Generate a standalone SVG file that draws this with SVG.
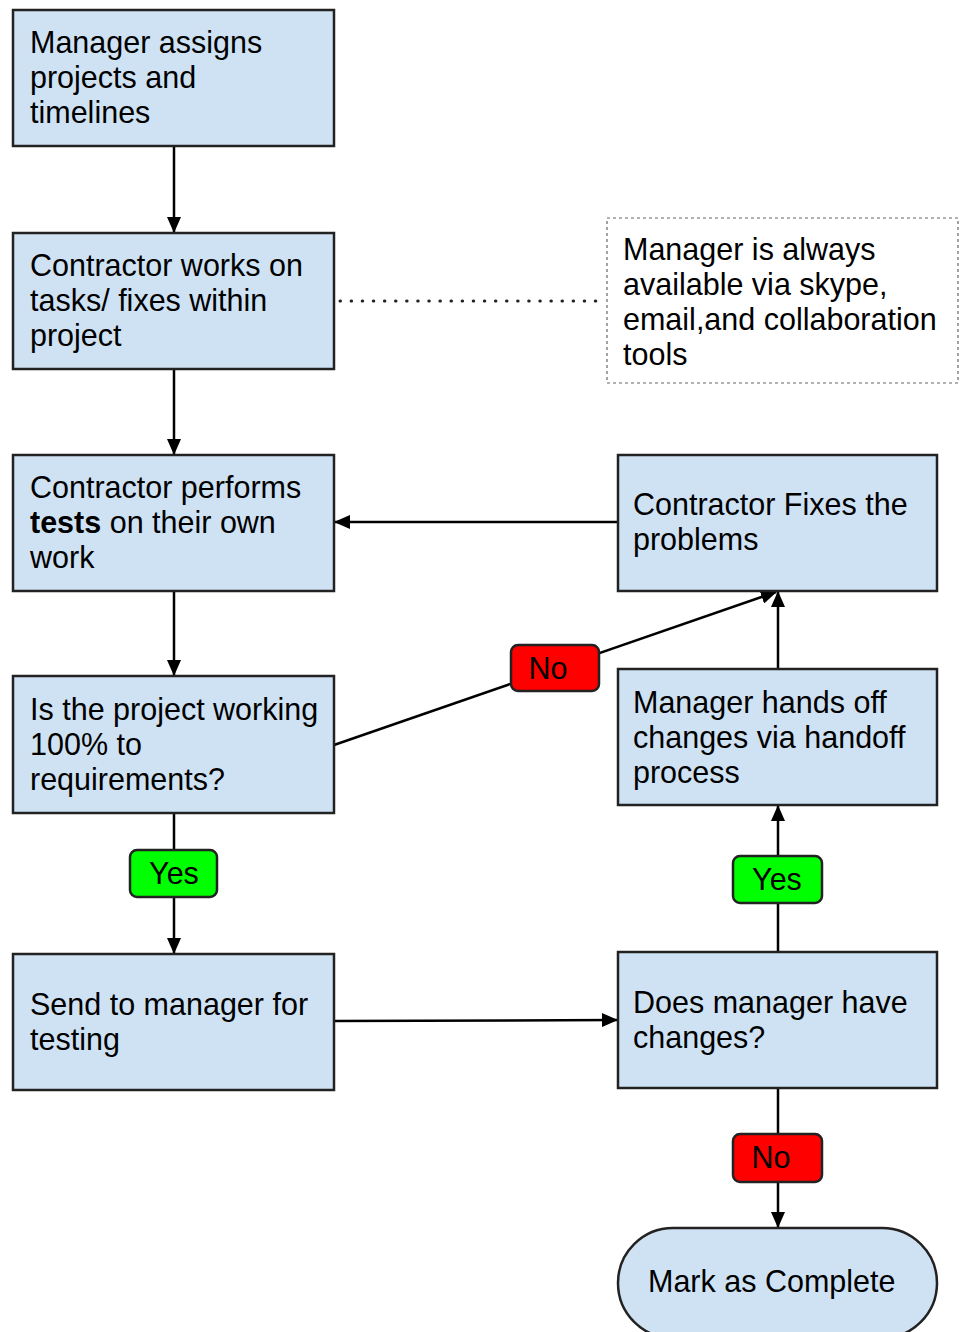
<svg xmlns="http://www.w3.org/2000/svg" width="960" height="1332" viewBox="0 0 960 1332">
<defs>
<marker id="ah" markerUnits="userSpaceOnUse" markerWidth="16" markerHeight="14" viewBox="0 0 16 14" refX="15" refY="7" orient="auto">
<path d="M0,0 L16,7 L0,14 Z" fill="#000"/>
</marker>
</defs>
<style>
.box{fill:#cfe2f3;stroke:#222;stroke-width:2.5}
.t{font-family:"Liberation Sans",Arial,sans-serif;font-size:30.5px;fill:#000}
.c{stroke:#000;stroke-width:2.5;fill:none}
.no{fill:#ff0000;stroke:#222;stroke-width:2.5}
.yes{fill:#00ff00;stroke:#222;stroke-width:2.5}
.lt{font-family:"Liberation Sans",Arial,sans-serif;font-size:30.5px;fill:#000;text-anchor:middle}
</style>
<rect width="960" height="1332" fill="#fff"/>
<g id="connectors">
<line class="c" x1="174" y1="146" x2="174" y2="232" marker-end="url(#ah)"/>
<line class="c" x1="174" y1="369" x2="174" y2="454" marker-end="url(#ah)"/>
<line class="c" x1="174" y1="591" x2="174" y2="675" marker-end="url(#ah)"/>
<line class="c" x1="174" y1="813" x2="174" y2="953" marker-end="url(#ah)"/>
<line class="c" x1="618" y1="522" x2="335" y2="522" marker-end="url(#ah)"/>
<line class="c" x1="334" y1="745" x2="776" y2="592" marker-end="url(#ah)"/>
<line class="c" x1="778" y1="669" x2="778" y2="592" marker-end="url(#ah)"/>
<line class="c" x1="778" y1="952" x2="778" y2="806" marker-end="url(#ah)"/>
<line class="c" x1="334" y1="1021" x2="617" y2="1020" marker-end="url(#ah)"/>
<line class="c" x1="778" y1="1088" x2="778" y2="1227" marker-end="url(#ah)"/>
<line x1="340" y1="301" x2="606" y2="301" stroke="#222" stroke-width="3" stroke-dasharray="0.5,10.6" stroke-linecap="round"/>
</g>
<g id="n1"><rect class="box" x="13" y="10" width="321" height="136"/>
<text class="t" x="30" y="53">Manager assigns</text><text class="t" x="30" y="88">projects and</text><text class="t" x="30" y="123">timelines</text></g>
<g id="n2"><rect class="box" x="13" y="233" width="321" height="136"/>
<text class="t" x="30" y="276">Contractor works on</text><text class="t" x="30" y="311">tasks/ fixes within</text><text class="t" x="30" y="346">project</text></g>
<g id="note"><rect x="607" y="218" width="351" height="165" fill="#fff" stroke="#666" stroke-width="1.2" stroke-dasharray="3,3"/>
<text class="t" x="623" y="260">Manager is always</text><text class="t" x="623" y="295">available via skype,</text><text class="t" x="623" y="330">email,and collaboration</text><text class="t" x="623" y="365">tools</text></g>
<g id="n3"><rect class="box" x="13" y="455" width="321" height="136"/>
<text class="t" x="30" y="498">Contractor performs</text><text class="t" x="30" y="533"><tspan font-weight="bold">tests</tspan> on their own</text><text class="t" x="30" y="568">work</text></g>
<g id="n4"><rect class="box" x="13" y="676" width="321" height="137"/>
<text class="t" x="30" y="720">Is the project working</text><text class="t" x="30" y="755">100% to</text><text class="t" x="30" y="790">requirements?</text></g>
<g id="n5"><rect class="box" x="13" y="954" width="321" height="136"/>
<text class="t" x="30" y="1015">Send to manager for</text><text class="t" x="30" y="1050">testing</text></g>
<g id="n6"><rect class="box" x="618" y="455" width="319" height="136"/>
<text class="t" x="633" y="515">Contractor Fixes the</text><text class="t" x="633" y="550">problems</text></g>
<g id="n7"><rect class="box" x="618" y="669" width="319" height="136"/>
<text class="t" x="633" y="713">Manager hands off</text><text class="t" x="633" y="748">changes via handoff</text><text class="t" x="633" y="783">process</text></g>
<g id="n8"><rect class="box" x="618" y="952" width="319" height="136"/>
<text class="t" x="633" y="1013">Does manager have</text><text class="t" x="633" y="1048">changes?</text></g>
<g id="n9"><rect class="box" x="618" y="1228" width="319" height="110" rx="55" ry="55"/>
<text class="t" x="648" y="1292">Mark as Complete</text></g>
<g id="l1"><rect class="no" x="511" y="645" width="88" height="46" rx="7"/><text class="lt" x="548" y="679">No</text></g>
<g id="l2"><rect class="yes" x="130" y="850" width="87" height="47" rx="7"/><text class="lt" x="174" y="884">Yes</text></g>
<g id="l3"><rect class="yes" x="733" y="856" width="89" height="47" rx="7"/><text class="lt" x="777" y="890">Yes</text></g>
<g id="l4"><rect class="no" x="733" y="1134" width="89" height="48" rx="7"/><text class="lt" x="771" y="1168">No</text></g>
</svg>
